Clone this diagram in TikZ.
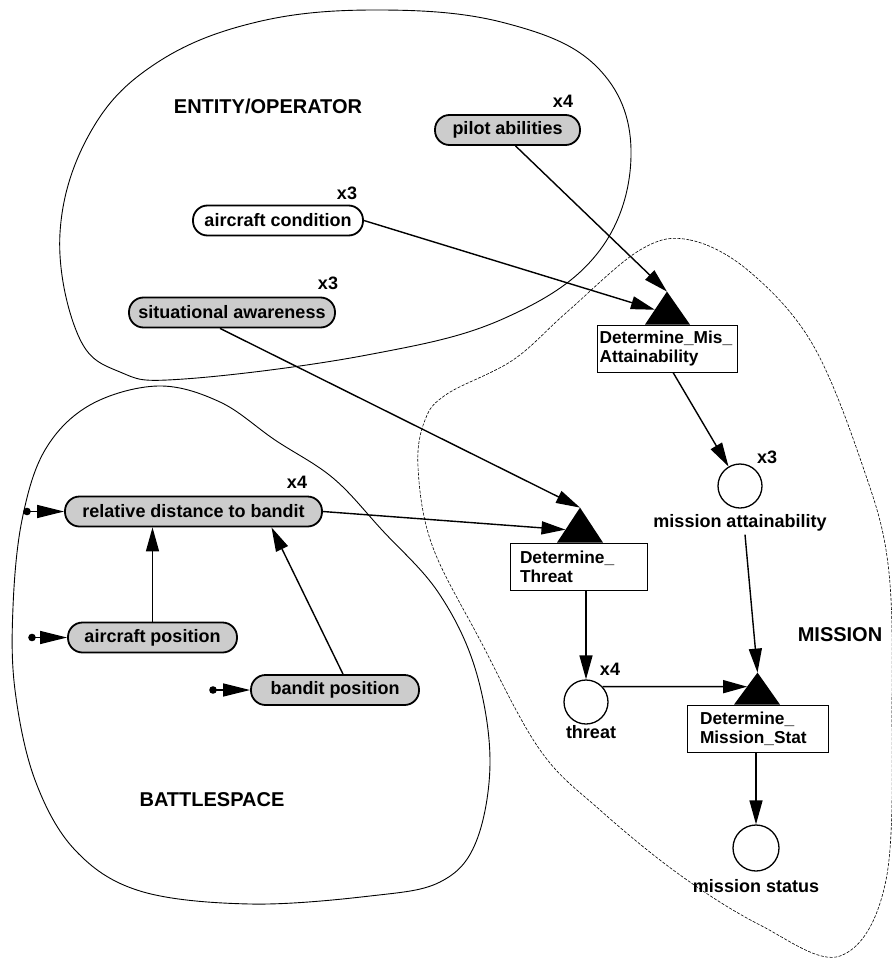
\documentclass[tikz,border=0pt]{standalone}
\usepackage{fontspec}
\setmainfont{Liberation Sans}
\usetikzlibrary{arrows.meta,calc}
\begin{document}
\begin{tikzpicture}[x=1pt,y=-1pt,
  every node/.style={font=\fontsize{18}{19}\selectfont\bfseries, inner sep=0pt},
  pill/.style={draw, line width=1.8pt, rounded corners=14.5pt, minimum height=30pt, inner sep=0pt, fill=white},
  shaded/.style={fill=black!20},
  tbox/.style={draw, line width=0.8pt, minimum height=47pt, align=left, fill=white, font=\fontsize{17.3}{19}\selectfont\bfseries},
  place/.style={draw, circle, line width=1.3pt, minimum size=44pt, inner sep=0pt, fill=white},
  arr/.style={line width=1.4pt, -{Triangle[length=24pt,width=13pt]}},
  inarr/.style={line width=1.4pt, -{Triangle[length=27pt,width=13pt]}},
  region/.style={line width=0.9pt},
  mregion/.style={line width=0.6pt, dash pattern=on 3pt off 1.5pt},
  lbl/.style={font=\fontsize{20}{22}\selectfont\bfseries},
]
\fill[white] (0,0) rectangle (891,960);
\useasboundingbox (0,0) rectangle (891,960);

% regions
\draw[region] plot[smooth cycle, tension=0.65] coordinates {(381,10) (505,23) (597,67) (631,150) (600,250) (505,318) (367,355) (184,379) (120,372) (78,335) (60,233) (90,133) (155,64) (257,22)};
\draw[region] plot[smooth cycle, tension=0.6] coordinates {(158,386) (220,402) (275,440) (333,478) (382,530) (438,592) (475,668) (490,760) (476,842) (440,882) (370,896) (250,904) (140,891) (75,850) (35,780) (15,690) (13,607) (22,520) (45,450) (90,405)};
\draw[mregion] plot[smooth cycle, tension=0.6] coordinates {(640,250) (690,240) (750,272) (813,345) (863,467) (888,564) (892,700) (886,880) (840,956) (760,925) (680,875) (600,810) (540,750) (480,640) (432,545) (418,467) (425,420) (447,394) (513,360) (567,312)};

% region labels
\node[lbl] (entlab) at (268,106) {ENTITY/OPERATOR};
\node[lbl] (batlab) at (212,800) {BATTLESPACE};
\node[lbl] (mislab) at (840,635) {MISSION};

% places (pills)
\node[pill,shaded,minimum width=145pt] (pilot) at (507.5,130) {pilot abilities};
\node[pill,minimum width=170pt] (acond) at (278,220.5) {aircraft condition};
\node[pill,shaded,minimum width=206pt] (sa) at (232,312.5) {situational awareness};
\node[pill,shaded,minimum width=257pt] (rd) at (193.5,511.5) {relative distance to bandit};
\node[pill,shaded,minimum width=169pt] (ap) at (152.5,637.5) {aircraft position};
\node[pill,shaded,minimum width=168pt] (bp) at (335,690) {bandit position};

% multiplicity labels
\node (m1) at (563,101) {x4};
\node (m2) at (347,193) {x3};
\node (m3) at (328,283) {x3};
\node (m4) at (297,482) {x4};
\node (m5) at (767,457) {x3};
\node (m6) at (610,669) {x4};

% transitions
\node[tbox, text width=135pt, inner xsep=2.5pt] (misbox) at (667,348.5) {Determine\_Mis\_\\Attainability};
\node[tbox, text width=117pt, inner xsep=10pt] (thbox) at (578.5,566.5) {Determine\_\\Threat};
\node[tbox, text width=115pt, inner xsep=13pt] (msbox) at (757.5,728.5) {Determine\_\\Mission\_Stat};

% circles
\node[place] (matt) at (740,486) {};
\node[place] (threat) at (586,702) {};
\node[place, minimum size=46pt] (mstat) at (756,848) {};
\node (mattlab) at (740,523) {mission attainability};
\node (threatlab) at (591,732) {threat};
\node (mstatlab) at (756,886) {mission status};

% triangle coordinates
\coordinate (misA) at ($(misbox.north)+(0,-33)$);
\coordinate (misBL) at ($(misbox.north)+(-22,0)$);
\coordinate (misBR) at ($(misbox.north)+(23,0)$);
\coordinate (misL) at ($(misA)!0.55!(misBL)$);
\coordinate (thA) at ($(thbox.north)+(1.5,-35)$);
\coordinate (thBL) at ($(thbox.north)+(-21.5,0)$);
\coordinate (thBR) at ($(thbox.north)+(24.5,0)$);
\coordinate (thL) at ($(thA)!0.63!(thBL)$);
\coordinate (msA) at ($(msbox.north)+(0,-32)$);
\coordinate (msBL) at ($(msbox.north)+(-23.5,0)$);
\coordinate (msBR) at ($(msbox.north)+(22.5,0)$);
\coordinate (msL) at ($(msA)!0.44!(msBL)$);
\coordinate (rdB) at ($(rd.south)+(78,0)$);

% arcs
\draw[arr] ($(pilot.south)+(8,0)$) -- (misA);
\draw[arr] (acond.east) -- (misL);
\draw[arr] ($(sa.south)+(-12,0)$) -- (thA);
\draw[arr] (rd.east) -- (thL);
\draw[arr] (ap.north) -- (ap.north |- rd.south);
\draw[arr] ($(bp.north)+(8,0)$) -- (rdB);
\draw[arr] ($(misbox.south)+(6,0)$) -- (matt);
\draw[arr] (threat.north |- thbox.south) -- (threat.north);
\draw[arr] ($(mattlab.south)+(5,3)$) -- (msA);
\draw[arr] (threat.43) -- (msL);
\draw[arr] (mstat.north |- msbox.south) -- (mstat.north);

% triangles
\fill (misBL) -- (misA) -- (misBR) -- cycle;
\fill (thBL) -- (thA) -- (thBR) -- cycle;
\fill (msBL) -- (msA) -- (msBR) -- cycle;

% inputs
\coordinate (rdIn) at (27,511.5);
\coordinate (apIn) at (32,637.5);
\coordinate (bpIn) at (213,690);
\foreach \c/\t in {rdIn/rd, apIn/ap, bpIn/bp} {
  \fill (\c) circle[radius=3.8pt];
  \draw[inarr] (\c) -- (\t.west);
}
\end{tikzpicture}
\end{document}
